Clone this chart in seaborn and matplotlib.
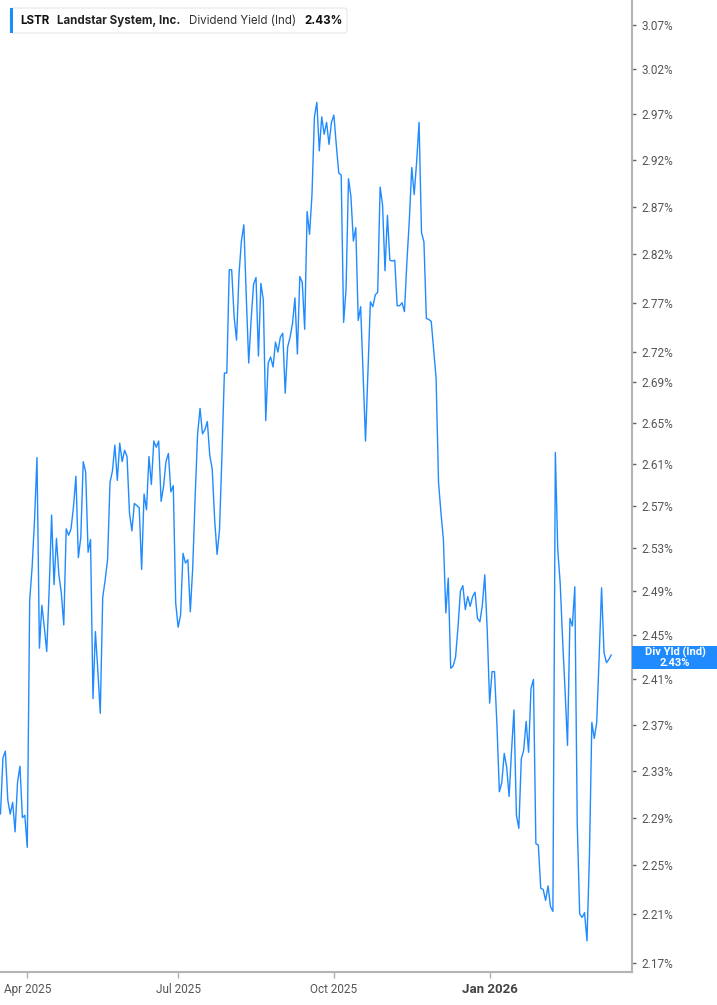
import numpy as np
import pandas as pd
import matplotlib
matplotlib.use("Agg")
import matplotlib.pyplot as plt
import matplotlib.ticker as mticker
from matplotlib.patches import Rectangle, FancyBboxPatch
import seaborn as sns

symbol = "LSTR"
company = "Landstar System, Inc."
metric = "Dividend Yield (Ind)"
metric_short = "Div Yld (Ind)"

# daily dividend yield in % (one value per trading day)
yield_pct = [
    2.293, 2.341, 2.347, 2.305, 2.293, 2.303, 2.278, 2.320, 2.334, 2.290,
    2.292, 2.265, 2.482, 2.512, 2.557, 2.616, 2.438, 2.477, 2.457, 2.435,
    2.491, 2.561, 2.496, 2.539, 2.505, 2.488, 2.459, 2.548, 2.542, 2.548,
    2.569, 2.598, 2.521, 2.540, 2.612, 2.602, 2.526, 2.538, 2.393, 2.453,
    2.418, 2.380,
    2.484, 2.500, 2.519, 2.592, 2.603, 2.628, 2.594, 2.630, 2.612, 2.623,
    2.617, 2.563, 2.546, 2.572, 2.570, 2.568, 2.510, 2.581, 2.566, 2.617,
    2.590, 2.632, 2.626, 2.632, 2.574, 2.588, 2.612, 2.620, 2.583, 2.589,
    2.479, 2.457, 2.468, 2.525, 2.516, 2.519, 2.471, 2.512, 2.579, 2.639,
    2.664, 2.639, 2.643, 2.651, 2.618, 2.605, 2.557, 2.524, 2.547, 2.618,
    2.699, 2.699, 2.804, 2.804, 2.756, 2.732, 2.799, 2.834, 2.851, 2.776,
    2.709, 2.753, 2.789, 2.796, 2.716, 2.790, 2.773, 2.652, 2.709, 2.715,
    2.705, 2.730, 2.720, 2.735, 2.739, 2.679, 2.725, 2.735, 2.749, 2.775,
    2.718, 2.797, 2.791, 2.743, 2.865, 2.841, 2.883, 2.967, 2.983, 2.930,
    2.967, 2.948, 2.961, 2.937, 2.961, 2.969, 2.936, 2.906,
    2.904, 2.750, 2.784, 2.900, 2.881, 2.834, 2.848, 2.752, 2.766, 2.699,
    2.632, 2.702, 2.771, 2.766, 2.778, 2.781, 2.891, 2.872, 2.803, 2.861,
    2.814, 2.813, 2.814, 2.767, 2.767, 2.770, 2.761, 2.812, 2.856, 2.912,
    2.883, 2.918, 2.961, 2.843, 2.833, 2.754, 2.753, 2.751, 2.722, 2.694,
    2.592, 2.563, 2.538, 2.470, 2.502, 2.420, 2.422, 2.430, 2.457, 2.490,
    2.495, 2.473, 2.485, 2.476, 2.485, 2.489, 2.465, 2.462, 2.477, 2.505,
    2.455, 2.389, 2.417, 2.417, 2.370, 2.312, 2.320, 2.345, 2.333, 2.308,
    2.347, 2.383, 2.292, 2.281, 2.340, 2.348, 2.373, 2.346, 2.402, 2.410,
    2.268, 2.267, 2.231, 2.230, 2.221, 2.233, 2.216, 2.212, 2.621, 2.528,
    2.497, 2.445, 2.400, 2.352, 2.465, 2.458, 2.494, 2.285, 2.210, 2.207,
    2.211, 2.188, 2.257, 2.372, 2.358, 2.372, 2.430, 2.493, 2.434, 2.425,
    2.428, 2.432,
]
last_yield = 2.43

start_date = "2025-03-17"
nyse_holidays = ["2025-04-18", "2025-05-26", "2025-06-19", "2025-07-04", "2025-09-01",
                 "2025-11-27", "2025-12-25", "2026-01-01", "2026-01-19", "2026-02-16"]

ytick_vals = [2.17, 2.21, 2.25, 2.29, 2.33, 2.37, 2.41, 2.45, 2.49, 2.53, 2.57,
              2.61, 2.65, 2.69, 2.72, 2.77, 2.82, 2.87, 2.92, 2.97, 3.02, 3.07]
month_starts = ["2025-04-01", "2025-07-01", "2025-10-01", "2026-01-01"]
month_labels = ["Apr 2025", "Jul 2025", "Oct 2025", "Jan 2026"]

BLUE = "#1f8bff"
W, H = 717, 1005

dates = pd.bdate_range(start=start_date, periods=len(yield_pct), freq="C", holidays=nyse_holidays)
df = pd.DataFrame({"day": np.arange(len(dates)), "date": dates, "yield": yield_pct})
month_pos = [int(dates.searchsorted(pd.Timestamp(m))) for m in month_starts]

sns.set_style("white")
plt.rcParams["font.family"] = ["Roboto", "DejaVu Sans"]

fig = plt.figure(figsize=(W / 100, H / 100), dpi=100)
ax = fig.add_axes([0, 33 / H, 632 / W, 972 / H])

sns.lineplot(data=df, x="day", y="yield", ax=ax, color=BLUE, linewidth=1.0)

ax.set_yscale("log")
ax.set_ylim(2.163, 3.098)
ax.set_xlim(-0.2, 259.5)
ax.set_xlabel("")
ax.set_ylabel("")

ax.yaxis.tick_right()
ax.set_yticks(ytick_vals)
ax.set_yticklabels([f"{v:.2f}%" for v in ytick_vals])
ax.yaxis.set_minor_locator(mticker.NullLocator())
ax.set_xticks(month_pos)
ax.set_xticklabels(month_labels)

ax.tick_params(axis="y", which="major", right=True, left=False, length=3, width=1,
               color="#666666", labelsize=8.5, labelcolor="#555555", pad=4)
ax.tick_params(axis="x", which="major", bottom=True, length=4, width=1,
               color="#b0b0b0", labelsize=8.5, labelcolor="#555555", pad=4)
for lab in ax.get_xticklabels():
    if lab.get_text().startswith("Jan"):
        lab.set_fontweight("bold")
        lab.set_fontsize(9.5)
        lab.set_color("#444444")

for side in ["left", "top"]:
    ax.spines[side].set_visible(False)
for side in ["right", "bottom"]:
    ax.spines[side].set_color("#b3b3b3")
    ax.spines[side].set_linewidth(1.5)

# legend box at top left
fig.patches.append(FancyBboxPatch((10 / W, 1 - 33 / H), 337 / W, 25 / H,
                                  boxstyle="round,pad=0,rounding_size=0.004",
                                  transform=fig.transFigure, facecolor="white",
                                  edgecolor="#e6e6e6", linewidth=0.8, zorder=5))
fig.patches.append(Rectangle((10 / W, 1 - 33 / H), 3 / W, 25 / H, transform=fig.transFigure,
                             facecolor=BLUE, edgecolor="none", zorder=6))

renderer = fig.canvas.get_renderer()
x_px = 20
pieces = [(symbol, "bold", 8, "#111111"), (company, "bold", 8, "#222222"),
          (metric, "normal", 9, "#333333"), (f"{last_yield:.2f}%", "bold", 0, "#111111")]
for txt, weight, gap, col in pieces:
    t = fig.text(x_px / W, 1 - 21 / H, txt, ha="left", va="center", fontsize=8.3,
                 fontweight=weight, color=col, family=["Inter", "DejaVu Sans"], zorder=7)
    bb = t.get_window_extent(renderer)
    x_px = bb.x1 + gap

# last value label on the right axis
y_disp = ax.transData.transform((0, last_yield))[1]
fig.patches.append(Rectangle((632 / W, (y_disp - 11.5) / H), 85 / W, 23 / H,
                             transform=fig.transFigure, facecolor=BLUE, edgecolor="none", zorder=5))
fig.text(675 / W, (y_disp + 5) / H, metric_short, ha="center", va="center", fontsize=8,
         fontweight="bold", color="white", zorder=6)
fig.text(675 / W, (y_disp - 5.5) / H, f"{last_yield:.2f}%", ha="center", va="center", fontsize=8,
         fontweight="bold", color="white", zorder=6)

fig.savefig("out.png", dpi=100)
